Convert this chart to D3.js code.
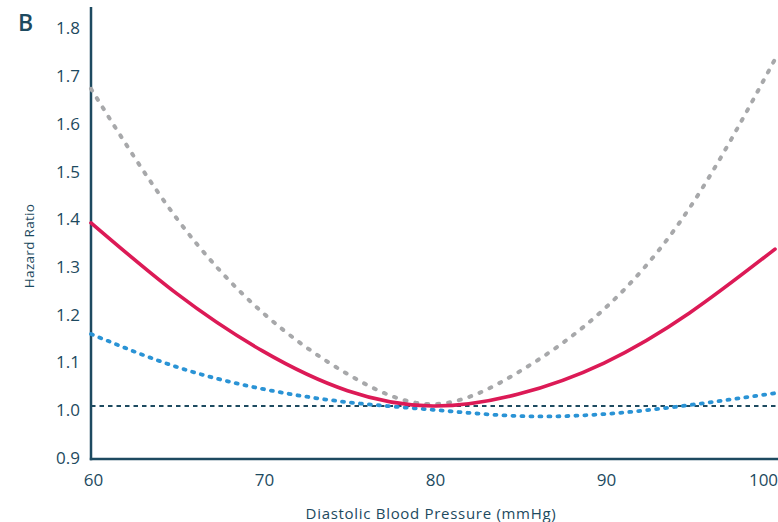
<!DOCTYPE html>
<html>
<head>
<meta charset="utf-8">
<script src="https://cdn.jsdelivr.net/npm/d3@7"></script>
<style>
  html, body { margin: 0; padding: 0; background: #fff; }
  svg { display: block; }
  text { font-family: "Open Sans", "Noto Sans", sans-serif; fill: #1d4a60; }
</style>
</head>
<body>
<svg id="chart" width="778" height="522"></svg>
<script>
// ---- data ----
const dbp = [60, 65, 70, 75, 80, 85, 90, 95, 100];
const solidRed = [1.384, 1.236, 1.116, 1.032, 1.0, 1.025, 1.09, 1.195, 1.329];
const upperGray = [1.665, 1.394, 1.197, 1.067, 1.004, 1.071, 1.203, 1.415, 1.727];
const lowerBlue = [1.151, 1.082, 1.036, 1.008, 0.992, 0.979, 0.983, 1.002, 1.027];
const xTicks = [60, 70, 80, 90, 100];
const yTicks = [0.9, 1.0, 1.1, 1.2, 1.3, 1.4, 1.5, 1.6, 1.7, 1.8];
const refValue = 1.0;
const panelLabel = "B";
const xTitle = "Diastolic Blood Pressure (mmHg)";
const yTitle = "Hazard Ratio";

const svg = d3.select("#chart");
const dark = "#1d4a60";
const font = "'Open Sans', 'Noto Sans', sans-serif";

const x = d3.scaleLinear().domain([60, 100]).range([91, 775]);
// y(1.0)=406, 477 px per unit
const y = d3.scaleLinear().domain([1 - 53/477, 1 + 399/477]).range([459, 7]);

// x axis
const xAxis = d3.axisBottom(x).tickValues(xTicks).tickSize(0).tickPadding(15)
  .tickFormat(d3.format("d"));
const gx = svg.append("g").attr("transform", `translate(0,${y.range()[0]})`).call(xAxis);
gx.select(".domain").attr("stroke", dark).attr("stroke-width", 2.5)
  .attr("d", `M${x.range()[0] - 1.2},0H${x.range()[1] + 3}`);
gx.selectAll(".tick text").attr("font-size", 17).attr("fill", dark)
  .attr("font-family", font).attr("dx", 2);
gx.selectAll(".tick text").filter(d => d === 100).attr("dx", -12);

// y axis
const yAxis = d3.axisLeft(y).tickValues(yTicks).tickSize(0).tickPadding(11)
  .tickFormat(d3.format(".1f"));
const gy = svg.append("g").attr("transform", `translate(${x.range()[0]},0)`).call(yAxis);
gy.select(".domain").attr("stroke", dark).attr("stroke-width", 2.5)
  .attr("d", `M0,${y.range()[0] + 1.2}V${y.range()[1]}`);
gy.selectAll(".tick text").attr("font-size", 17).attr("fill", dark)
  .attr("font-family", font).attr("dy", "0.56em");

// reference line
svg.append("line")
  .attr("x1", x(60)).attr("x2", x(100) + 3)
  .attr("y1", y(refValue)).attr("y2", y(refValue))
  .attr("stroke", dark).attr("stroke-width", 2.2)
  .attr("stroke-dasharray", "4.5,4");

const line = d3.line().x((d, i) => x(dbp[i])).y(d => y(d)).curve(d3.curveNatural);

svg.append("path").datum(upperGray).attr("d", line)
  .attr("fill", "none").attr("stroke", "#a7a8aa").attr("stroke-width", 4)
  .attr("stroke-linecap", "round").attr("stroke-dasharray", "2,9");

svg.append("path").datum(lowerBlue).attr("d", line)
  .attr("fill", "none").attr("stroke", "#2a93d5").attr("stroke-width", 3.8)
  .attr("stroke-linecap", "round").attr("stroke-dasharray", "2,7");

svg.append("path").datum(solidRed).attr("d", line)
  .attr("fill", "none").attr("stroke", "#dc1a56").attr("stroke-width", 3.6)
  .attr("stroke-linecap", "round");

// titles
svg.append("text").attr("x", 18).attr("y", 31).attr("font-size", 23)
  .attr("font-weight", 600).text(panelLabel);

svg.append("text").attr("x", 431).attr("y", 519).attr("text-anchor", "middle")
  .attr("font-size", 15).attr("letter-spacing", 0.7).text(xTitle);

svg.append("text").attr("transform", "translate(34,246) rotate(-90)")
  .attr("text-anchor", "middle").attr("font-size", 13.5)
  .attr("letter-spacing", 0.3).text(yTitle);
</script>
</body>
</html>
